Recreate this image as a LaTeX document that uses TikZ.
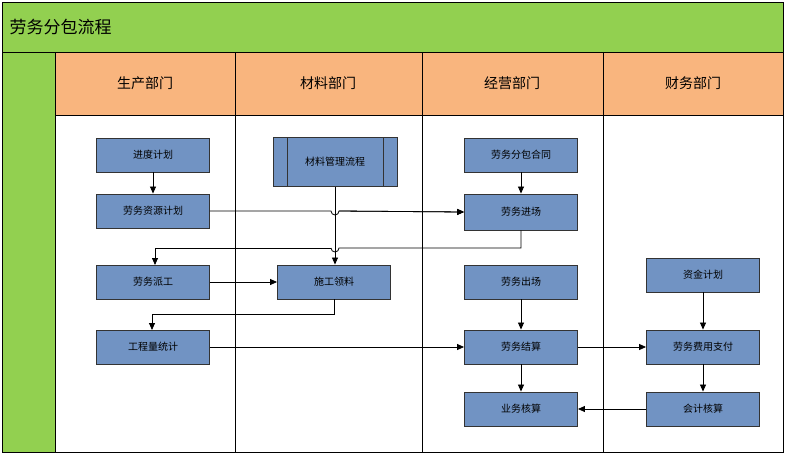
\documentclass[tikz,border=0pt]{standalone}
\usepackage{fontspec}
\newfontfamily\cjk{Noto Sans CJK SC}
\usetikzlibrary{arrows.meta}
\definecolor{gr}{HTML}{92D050}
\definecolor{og}{HTML}{F9B57E}
\definecolor{bx}{HTML}{7193C3}
\begin{document}
\begin{tikzpicture}[x=1pt,y=-1pt,
 box/.style={draw=black!80,fill=bx,line width=0.9pt,minimum width=113pt,minimum height=34pt,font=\cjk\fontsize{10}{12}\selectfont,inner sep=0pt},
 hd/.style={font=\cjk\fontsize{14}{16}\selectfont},
 ar/.style={line width=0.8pt,-{Triangle[length=7pt,width=6pt]}},
 ln/.style={line width=0.8pt}]
\useasboundingbox (0,0) rectangle (787,456);
\fill[white] (0,0) rectangle (787,456);
\draw[fill=gr,line width=0.8pt] (2,2) rectangle (783,52);
\node[anchor=west,font=\cjk\fontsize{17}{20}\selectfont] (t) at (6,27) {劳务分包流程};
\draw[fill=gr,line width=0.8pt] (2,52) rectangle (55,452);
\draw[fill=og,line width=0.8pt] (55,52) rectangle (783,115);
\draw[line width=0.8pt] (55,115) rectangle (783,452);
\foreach \x in {235,422,603} \draw[line width=0.8pt] (\x,52) -- (\x,452);
\node[hd] (h1) at (145,83) {生产部门};
\node[hd] (h2) at (328,83) {材料部门};
\node[hd] (h3) at (512,83) {经营部门};
\node[hd] (h4) at (693,83) {财务部门};
\node[box] (a1) at (153,155) {进度计划};
\node[box] (a2) at (153,211) {劳务资源计划};
\node[box] (a3) at (153,282) {劳务派工};
\node[box] (a4) at (153,347) {工程量统计};
\node[box,minimum width=124pt,minimum height=49pt] (b1) at (335,162) {材料管理流程};
\draw[line width=0.9pt,black!80] (287,138)--(287,187) (383,138)--(383,187);
\node[box] (b2) at (334,282) {施工领料};
\node[box] (c1) at (521,155) {劳务分包合同};
\node[box,minimum height=36pt] (c2) at (521,212) {劳务进场};
\node[box] (c3) at (521,282) {劳务出场};
\node[box] (c4) at (521,347) {劳务结算};
\node[box] (c5) at (521,409) {业务核算};
\node[box] (d1) at (703,275) {资金计划};
\node[box] (d2) at (703,347) {劳务费用支付};
\node[box] (d3) at (703,409) {会计核算};
\draw[ar] (a1) -- (a2);
\draw[ar] (b1.south -| 335,0) -- (b2.north -| 335,0);
\draw[ln] (a2.east) -- (331,211) arc[start angle=180,end angle=0,radius=4] -- (c2.west) [ar] ;
\draw[ar] (339,211) -- (c2.west);
\draw[ln] (c2.south) -- (521,248) -- (339,248) arc[start angle=0,end angle=180,radius=4];
\draw[ar] (331,248) -- (155,248) -- (155,265);
\coordinate (p) at (155,265);
\draw[ar] (c1) -- (c2);
\draw[ar] (a3) -- (b2);
\draw[ar] (b2.south) -- (334,314) -- (152,314) -- (152,330);
\draw[ar] (a4) -- (c4);
\draw[ar] (c3) -- (c4);
\draw[ar] (c4) -- (c5);
\draw[ar] (c4) -- (d2);
\draw[ar] (d1) -- (d2);
\draw[ar] (d2) -- (d3);
\draw[ar] (d3) -- (c5);
\end{tikzpicture}
\end{document}
